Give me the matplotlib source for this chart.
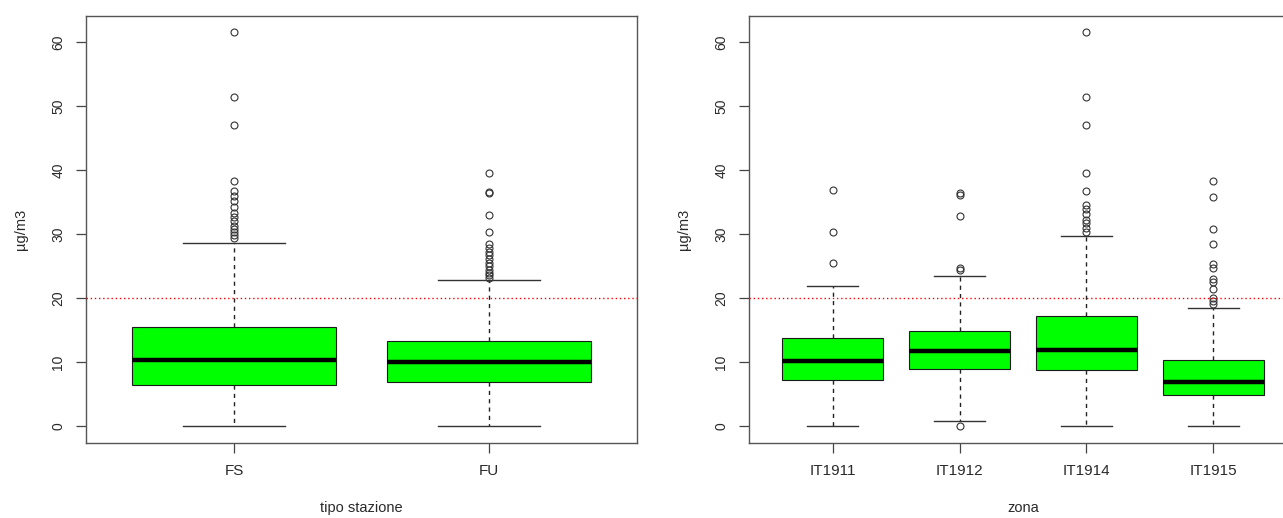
import matplotlib
matplotlib.use('Agg')
import matplotlib.pyplot as plt

# --- NO2 by station type ---
tipo_labels = ['FS', 'FU']
tipo_q1     = [6.4, 6.9]
tipo_med    = [10.3, 10.0]
tipo_q3     = [15.5, 13.3]
tipo_lo     = [0.0, 0.0]
tipo_hi     = [28.7, 22.9]
fliers_fs = [61.6, 51.4, 47.0, 38.4, 36.8, 36.0, 35.2, 34.3, 33.4, 32.7,
             32.0, 31.3, 30.8, 30.3, 29.9, 29.5]
fliers_fu = [39.5, 36.6, 36.4, 33.0, 30.4, 28.5, 27.9, 27.3, 26.7, 26.1,
             25.5, 25.0, 24.5, 24.0, 23.6, 23.2]
tipo_fliers = [fliers_fs, fliers_fu]

# --- NO2 by zone ---
zona_labels = ['IT1911', 'IT1912', 'IT1914', 'IT1915']
zona_q1     = [7.2, 8.9, 8.8, 4.9]
zona_med    = [10.2, 11.8, 12.0, 6.9]
zona_q3     = [13.8, 14.9, 17.3, 10.3]
zona_lo     = [0.0, 0.8, 0.0, 0.0]
zona_hi     = [22.0, 23.5, 29.7, 18.5]
fliers_1911 = [36.9, 30.3, 25.5]
fliers_1912 = [36.4, 36.1, 32.8, 24.8, 24.5, 0.0]
fliers_1914 = [61.6, 51.4, 47.0, 39.5, 36.7, 34.6, 33.9, 33.1, 32.3, 31.7,
               31.0, 30.4]
fliers_1915 = [38.3, 35.9, 30.8, 28.5, 25.3, 24.8, 23.0, 22.5, 21.5, 20.1,
               19.6, 19.1]
zona_fliers = [fliers_1911, fliers_1912, fliers_1914, fliers_1915]

LIMIT = 20  # annual limit line
TXT = '#2a2a2a'

plt.rcParams['font.family'] = ['Liberation Sans', 'DejaVu Sans']


def make_stats(labels, q1, med, q3, lo, hi, fliers):
    return [dict(label=l, q1=a, med=m, q3=b, whislo=w0, whishi=w1, fliers=f)
            for l, a, m, b, w0, w1, f in zip(labels, q1, med, q3, lo, hi, fliers)]


def draw_panel(ax, stats, xlabel):
    n = len(stats)
    ax.bxp(stats, widths=0.8, patch_artist=True, showcaps=True,
           boxprops=dict(facecolor='#00FF00', edgecolor='#1a1a1a', linewidth=0.8),
           medianprops=dict(color='black', linewidth=3.2, solid_capstyle='butt'),
           whiskerprops=dict(color='#222222', linewidth=1.0, linestyle=(0, (3, 3))),
           capprops=dict(color='#333333', linewidth=1.0),
           capwidths=0.4,
           flierprops=dict(marker='o', markersize=5, markerfacecolor='none',
                           markeredgecolor='#333333', markeredgewidth=0.8))
    ax.axhline(LIMIT, color='red', linewidth=1.0, linestyle=(0, (1, 2)), zorder=5)

    # R-style 4% padding around the group range
    span = n - 1 + 1.0
    ax.set_xlim(0.5 - 0.04 * span, n + 0.5 + 0.04 * span)
    ax.set_ylim(-2.6, 64.1)
    ax.set_yticks([0, 10, 20, 30, 40, 50, 60])
    ax.tick_params(axis='y', direction='out', length=7, width=0.9,
                   colors='#444444', labelcolor=TXT, labelsize=10, pad=8,
                   labelrotation=90)
    for t in ax.get_yticklabels():
        t.set_va('center')
    ax.tick_params(axis='x', direction='out', length=7, width=0.9,
                   colors='#444444', labelcolor=TXT, labelsize=11, pad=8)

    for s in ax.spines.values():
        s.set_color('#555555')
        s.set_linewidth(1.0)

    ax.set_ylabel('µg/m3', fontsize=10.5, color=TXT, va='center')
    ax.yaxis.set_label_coords(-0.118, 0.5)
    ax.set_xlabel(xlabel, fontsize=10.5, color=TXT, va='center')
    ax.xaxis.set_label_coords(0.5, -0.152)


fig = plt.figure(figsize=(12.83, 5.18), dpi=100)
fig.patch.set_facecolor('white')

ax1 = fig.add_axes([86 / 1283, 75 / 518, 551 / 1283, 427 / 518])
ax2 = fig.add_axes([749 / 1283, 75 / 518, 548 / 1283, 427 / 518])

draw_panel(ax1, make_stats(tipo_labels, tipo_q1, tipo_med, tipo_q3,
                           tipo_lo, tipo_hi, tipo_fliers), 'tipo stazione')
draw_panel(ax2, make_stats(zona_labels, zona_q1, zona_med, zona_q3,
                           zona_lo, zona_hi, zona_fliers), 'zona')

fig.savefig('out.png', dpi=100, facecolor='white')
